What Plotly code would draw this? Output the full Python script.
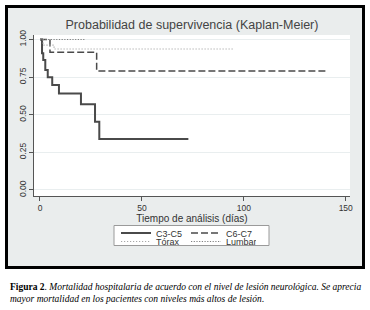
import plotly.graph_objects as go

# ---- data ----
c3c5_t = [0, 1.0, 1.6, 2.6, 3.8, 6.0, 9.3, 20.1, 27.0, 29.1, 72.8]
c3c5_s = [1.0, 0.908, 0.864, 0.797, 0.749, 0.698, 0.642, 0.569, 0.454, 0.339, 0.339]
c6c7_t = [0, 4.9, 27.8, 140.7]
c6c7_s = [1.0, 0.915, 0.79, 0.79]
torax_t = [0, 1.5, 6.9, 94.8]
torax_s = [1.0, 0.963, 0.937, 0.937]
lumbar_t = [0, 22.0]
lumbar_s = [1.0, 1.0]

x_ticks = [0, 50, 100, 150]
y_ticks = [0, 0.25, 0.5, 0.75, 1.0]
y_tick_labels = ["0.00", "0.25", "0.50", "0.75", "1.00"]

title = "Probabilidad de supervivencia (Kaplan-Meier)"
x_title = "Tiempo de análisis (días)"
caption = ("<b>Figura 2</b>. <i>Mortalidad hospitalaria de acuerdo con el nivel de lesión neurológica. Se aprecia"
           "<br>mayor mortalidad en los pacientes con niveles más altos de lesión</i>.")

W, H = 370, 310
L, R, T, B = 34, 20, 35, 114
PW, PH = W - L - R, H - T - B

def px(x):  # pixel -> paper (plot-area relative)
    return (x - L) / PW
def py(y):
    return (H - B - y) / PH
def cx(x):  # pixel -> container
    return x / W
def cy(y):
    return 1 - y / H

fig = go.Figure()
fig.add_trace(go.Scatter(x=c3c5_t, y=c3c5_s, mode="lines", line_shape="hv", name="C3-C5",
                         line=dict(color="#4a4a4a", width=2), legend="legend"))
fig.add_trace(go.Scatter(x=c6c7_t, y=c6c7_s, mode="lines", line_shape="hv", name="C6-C7",
                         line=dict(color="#4a4a4a", width=1.5, dash="7px,3px"), legend="legend"))
fig.add_trace(go.Scatter(x=torax_t, y=torax_s, mode="lines", line_shape="hv", name="Tórax",
                         line=dict(color="#a8a8a8", width=1.2, dash="1.2px,1.8px"), legend="legend2"))
fig.add_trace(go.Scatter(x=lumbar_t, y=lumbar_s, mode="lines", line_shape="hv", name="Lumbar",
                         line=dict(color="#808080", width=1.2, dash="1.2px,1.5px"), legend="legend2"))

gray_bg = "#eaeded"
shapes = [
    dict(type="rect", xref="paper", yref="paper", x0=px(6.5), x1=px(363.5), y0=py(267.5), y1=py(6.5),
         line=dict(color="black", width=3), fillcolor=gray_bg, layer="below"),
    dict(type="rect", xref="paper", yref="paper", x0=px(34), x1=px(350), y0=py(196), y1=py(35),
         line=dict(width=0), fillcolor="white", layer="below"),
    dict(type="rect", xref="paper", yref="paper", x0=px(114), x1=px(269), y0=py(245.5), y1=py(225.5),
         line=dict(color="#9a9a9a", width=1), fillcolor="white", layer="below"),
]

fig.update_layout(
    width=W, height=H,
    margin=dict(l=L, r=R, t=T, b=B, autoexpand=False),
    paper_bgcolor="white", plot_bgcolor="white",
    font=dict(family="Liberation Sans, Arial", color="#333333", size=9),
    shapes=shapes,
    title=dict(text=title, xref="container", yref="container", x=cx(192), xanchor="center",
               y=cy(25), yanchor="middle", font=dict(size=12.5, color="#444444")),
    xaxis=dict(range=[-2.94, 152.1], tickvals=x_ticks, showgrid=False, zeroline=False,
               showline=True, linecolor="#555555", linewidth=1, ticks="outside", ticklen=4,
               tickcolor="#555555", tickfont=dict(size=8.5, color="#333333"),
               title=dict(text=x_title, font=dict(size=10, color="#333333"), standoff=0)),
    yaxis=dict(range=[-0.04, 1.03], tickvals=y_ticks, ticktext=y_tick_labels, tickangle=-90,
               showgrid=True, gridcolor="#e9eeef", gridwidth=1, zeroline=False,
               showline=True, linecolor="#555555", linewidth=1, ticks="outside", ticklen=4,
               tickcolor="#555555", tickfont=dict(size=8.5, color="#333333")),
    legend=dict(orientation="h", xref="paper", yref="paper", x=px(116), xanchor="left",
                y=py(233), yanchor="middle",
                bgcolor="rgba(0,0,0,0)", borderwidth=0, font=dict(size=9, color="#333333"),
                entrywidth=25, entrywidthmode="pixels", itemwidth=30),
    legend2=dict(orientation="h", xref="paper", yref="paper", x=px(116), xanchor="left",
                 y=py(241.5), yanchor="middle",
                 bgcolor="rgba(0,0,0,0)", borderwidth=0, font=dict(size=9, color="#333333"),
                 entrywidth=25, entrywidthmode="pixels", itemwidth=30),
    annotations=[dict(text=caption, xref="paper", yref="paper", x=px(8), y=py(293), xanchor="left",
                      yanchor="middle", align="left", showarrow=False,
                      font=dict(family="Liberation Serif, Times New Roman", size=9.5, color="black"))],
)

fig.write_html("out.html", config={"displayModeBar": False},
               post_script="document.body.style.margin='0px';")
